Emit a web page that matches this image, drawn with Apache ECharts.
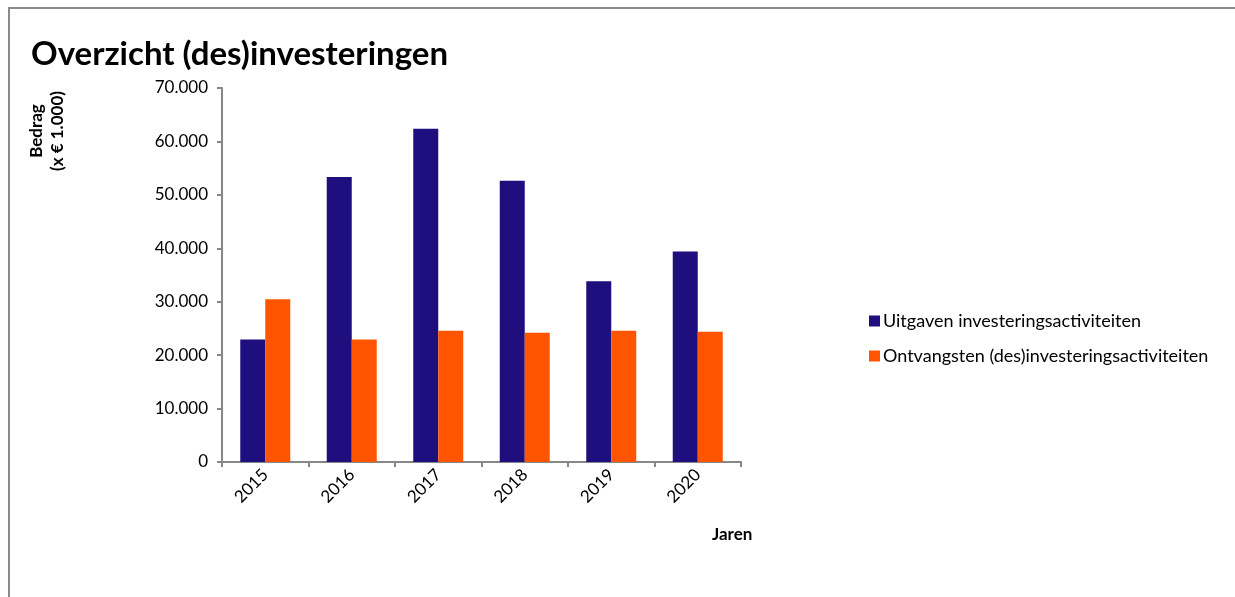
<!DOCTYPE html>
<html>
<head>
<meta charset="utf-8">
<script src="https://cdn.jsdelivr.net/npm/echarts@6/dist/echarts.min.js"></script>
<style>
  html, body { margin: 0; padding: 0; background: #fff; }
  #chart { width: 1235px; height: 597px; }
</style>
</head>
<body>
<div id="chart"></div>
<script>
// Investment outflows and (dis)investment receipts per year, x € 1.000
const years = ['2015', '2016', '2017', '2018', '2019', '2020'];
const uitgaven = [22950, 53330, 62380, 52630, 33820, 39400];
const ontvangsten = [30450, 22950, 24560, 24190, 24560, 24380];
const seriesNames = ['Uitgaven investeringsactiviteiten', 'Ontvangsten (des)investeringsactiviteiten'];

const FONT = 'Lato, "Open Sans", sans-serif';
const fmt = v => String(v).replace(/\B(?=(\d{3})+(?!\d))/g, '.');

const chart = echarts.init(document.getElementById('chart'), null, { renderer: 'canvas' });
chart.setOption({
  animation: false,
  backgroundColor: '#fff',
  textStyle: { fontFamily: FONT },
  title: {
    text: 'Overzicht (des)investeringen',
    left: 26, top: 33,
    textStyle: { fontFamily: FONT, fontSize: 33, fontWeight: 'bold', color: '#000' }
  },
  legend: {
    orient: 'vertical',
    left: 864, top: 307,
    itemWidth: 11, itemHeight: 11, itemGap: 17,
    icon: 'rect',
    textStyle: { fontFamily: FONT, fontSize: 18, color: '#000', padding: [0, 0, 0, -2] },
    data: seriesNames
  },
  grid: { left: 222, top: 88, width: 519, height: 374, containLabel: false },
  xAxis: {
    type: 'category',
    data: years,
    axisLine: { lineStyle: { color: '#878787', width: 2 } },
    axisTick: { show: true, length: 5, lineStyle: { color: '#878787', width: 2 } },
    axisLabel: { rotate: 45, fontSize: 17, color: '#000', margin: 10, fontFamily: FONT }
  },
  yAxis: {
    type: 'value',
    min: 0, max: 70000, interval: 10000,
    axisLine: { show: true, lineStyle: { color: '#878787', width: 2 } },
    axisTick: { show: true, length: 5, lineStyle: { color: '#878787', width: 2 } },
    splitLine: { show: false },
    axisLabel: { formatter: fmt, fontSize: 17, color: '#000', margin: 14, fontFamily: FONT }
  },
  series: [
    {
      name: seriesNames[0], type: 'bar', data: uitgaven,
      barWidth: 25, barGap: '0%',
      itemStyle: { color: '#1f0f7e' }
    },
    {
      name: seriesNames[1], type: 'bar', data: ontvangsten,
      barWidth: 25,
      itemStyle: { color: '#ff5500' }
    }
  ],
  graphic: [
    {
      type: 'rect', silent: true, z: -1,
      shape: { x: 9, y: 8, width: 1240, height: 600 },
      style: { fill: 'none', stroke: '#8a8a8a', lineWidth: 2 }
    },
    {
      type: 'text', x: 47, y: 131, rotation: Math.PI / 2,
      style: {
        text: 'Bedrag\n(x € 1.000)',
        align: 'center', verticalAlign: 'middle',
        font: 'bold 17px ' + FONT, fill: '#000', lineHeight: 21
      }
    },
    {
      type: 'text', x: 712, y: 535,
      style: {
        text: 'Jaren',
        align: 'left', verticalAlign: 'middle',
        font: 'bold 17px ' + FONT, fill: '#000'
      }
    }
  ]
});
</script>
</body>
</html>
